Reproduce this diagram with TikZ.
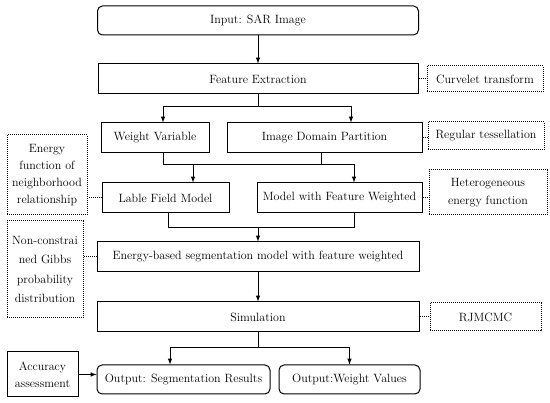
\documentclass[tikz,border=0pt]{standalone}
\usetikzlibrary{arrows,positioning}

\tikzset{
  box/.style={draw, line width=1pt, minimum height=30pt, inner sep=2pt,
    font=\fontsize{12}{14}\selectfont},
  rbox/.style={box, rounded corners=5pt},
  note/.style={draw, densely dotted, line width=1pt, align=center, inner sep=2pt,
    font=\fontsize{12}{18}\selectfont},
  link/.style={densely dotted, line width=1pt},
}

\begin{document}
\begin{tikzpicture}[>=latex, line width=1pt, x=1pt, y=1pt]
\useasboundingbox (0,0) rectangle (550,403);
% main column
\node (in) [rbox, minimum width=321pt, minimum height=29pt] at (258,382.5) {Input: SAR Image};
\node (feat) [box, minimum width=320pt, node distance=58.5pt, below of=in] {Feature Extraction};
\node (wv) [box, minimum width=108pt] at (155,265) {Weight Variable};
\node (idp) [box, minimum width=195pt] at (324.5,265) {Image Domain Partition};
\node (lfm) [box, minimum width=127pt] at (165.5,205) {Lable Field Model};
\node (mfw) [box, minimum width=165pt] at (339.5,205) {Model with Feature Weighted};
\node (ebs) [box, minimum width=322pt] at (258,146) {Energy-based segmentation model with feature weighted};
\node (sim) [box, minimum width=322pt, node distance=60pt, below of=ebs] {Simulation};
\node (oseg) [rbox, minimum width=173pt, minimum height=29pt] at (183.5,23.5) {Output: Segmentation Results};
\node (owv) [rbox, minimum width=141pt, minimum height=29pt] at (349.5,23.5) {Output:Weight Values};
\node (acc) [box, align=center, minimum width=71pt, minimum height=45pt,
  font=\fontsize{12}{17}\selectfont] at (42.5,28.5) {Accuracy\\assessment};
% notes
\node (curv) [note, minimum width=116pt, minimum height=26pt, node distance=227pt, right of=feat] {Curvelet transform};
\node (reg) [note, minimum width=116pt, minimum height=28pt] at (486,267) {Regular tessellation};
\node (het) [note, minimum width=118pt, minimum height=45pt] at (488,210.5) {Heterogeneous\\energy function};
\node (enf) [note, minimum width=80pt, minimum height=80pt,
  font=\fontsize{12}{17}\selectfont] at (47,228) {Energy\\function of\\neighborhood\\relationship};
\node (ncg) [note, minimum width=76pt, minimum height=97pt,
  font=\fontsize{12}{19.5}\selectfont] at (45,133.5) {Non-constrai\\ned Gibbs\\probability\\distribution};
\node (rjm) [note, minimum width=111pt, minimum height=28pt, node distance=227.5pt, right of=sim] {RJMCMC};
% connectors
\draw[->] (in) -- (feat);
\draw (feat.south) -- ++(0,-12) coordinate (s1);
\draw[->] (s1) -| ([xshift=8pt]wv.north);
\draw[->] (s1) -| ([xshift=26.5pt]idp.north);
\coordinate (lfmin) at ([xshift=27.5pt]lfm.north);
\coordinate (mfwin) at ([xshift=14.5pt]mfw.north);
\draw ([xshift=8pt]wv.south) -- ++(0,-11) coordinate (s2);
\draw ([xshift=-3.5pt]idp.south) -- ++(0,-11);
\draw[->] (s2) -| (lfmin);
\draw[->] (s2) -| (mfwin);
\coordinate (mfwout) at ([xshift=14.5pt]mfw.south);
\draw ([xshift=2.5pt]lfm.south) -- ++(0,-14) coordinate (s3);
\draw (s3) -| (mfwout);
\draw[->] (s3 -| ebs.north) -- (ebs.north);
\draw[->] (ebs) -- (sim);
\draw (sim.south) -- ++(0,-15) coordinate (s4);
\draw[->] (s4) -| ([xshift=-13.5pt]oseg.north);
\draw[->] (s4) -| (owv.north);
\draw[->] (acc.east) -- (acc.east -| oseg.west);
% dotted links
\draw[link] (feat.east) -- (feat.east -| curv.west);
\draw[link] (idp.east) -- (idp.east -| reg.west);
\draw[link] (mfw.east) -- (mfw.east -| het.west);
\draw[link] (lfm.west) -- (lfm.west -| enf.east);
\draw[link] (ebs.west) -- (ebs.west -| ncg.east);
\draw[link] (sim.east) -- (sim.east -| rjm.west);
\end{tikzpicture}
\end{document}
